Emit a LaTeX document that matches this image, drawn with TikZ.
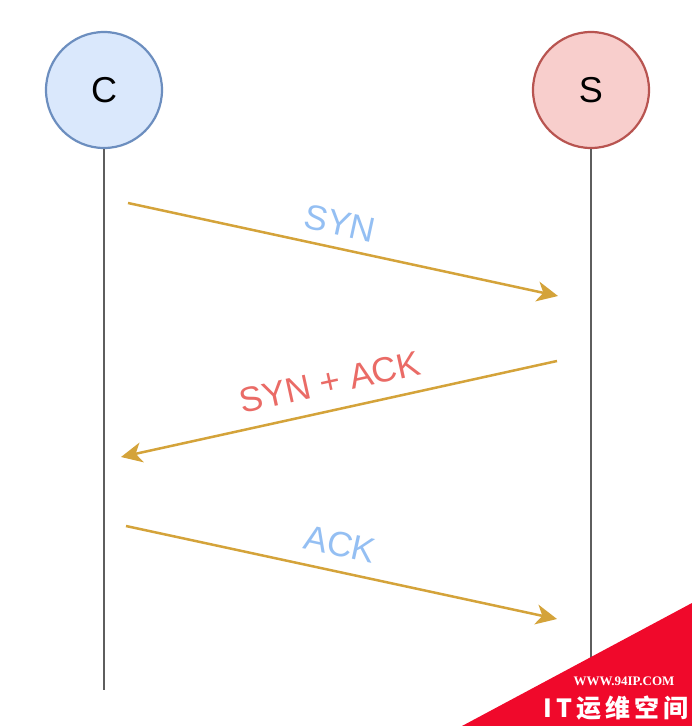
\documentclass[tikz,border=0pt]{standalone}
\usepackage{fontspec}
\setmainfont{Liberation Sans}
\newfontfamily\wmserif{Liberation Serif}
\newfontfamily\cjk{Noto Sans CJK SC}
\usetikzlibrary{arrows.meta}
\definecolor{cfill}{HTML}{DAE8FC}
\definecolor{cdraw}{HTML}{6C8EBF}
\definecolor{sfill}{HTML}{F8CECC}
\definecolor{sdraw}{HTML}{B85450}
\definecolor{msg}{HTML}{D4A33A}
\definecolor{life}{HTML}{5E5E5E}
\definecolor{lblue}{HTML}{94BFF3}
\definecolor{lred}{HTML}{EA6B66}
\definecolor{wmred}{HTML}{F0092B}
\tikzset{
  party/.style={circle, minimum size=116pt, inner sep=0pt, line width=2.2pt,
    font=\fontsize{36}{42}\selectfont},
  lifeline/.style={draw=life, line width=2.2pt},
  message/.style={draw=msg, line width=2.5pt,
    -{Stealth[length=21pt,width=20pt,inset=6pt]}},
  msglabel/.style={font=\fontsize{35}{40}\selectfont, inner sep=0pt}
}
\begin{document}
\begin{tikzpicture}[x=1pt,y=-1pt]
\useasboundingbox[fill=white] (0,0) rectangle (692,726);
% parties
\node[party, fill=cfill, draw=cdraw] (C) at (104,90) {C};
\node[party, fill=sfill, draw=sdraw] (S) at (591,90) {S};
% lifeline ends
\coordinate (Cend) at (104,690);
\coordinate (Send) at (591,690);
\draw[lifeline] (C.south) -- (Cend);
\draw[lifeline] (S.south) -- (Send);
% message endpoints
\coordinate (m1a) at (128,203);
\coordinate (m1b) at (558,296);
\coordinate (m2a) at (557,361);
\coordinate (m2b) at (121,457);
\coordinate (m3a) at (126,526);
\coordinate (m3b) at (557,619);
\draw[message] (m1a) -- (m1b);
\draw[message] (m2a) -- (m2b);
\draw[message] (m3a) -- (m3b);
% labels
\node[msglabel, text=lblue, rotate=-12.3] (l1) at (340,223) {SYN};
\node[msglabel, text=lred, rotate=12.4] (l2) at (330,382) {SYN + ACK};
\node[msglabel, text=lblue, rotate=-12.3] (l3) at (340,544) {ACK};
% watermark
\fill[wmred] (462,726) -- (692,603) -- (692,726) -- cycle;
\node[text=white, font=\wmserif\bfseries\fontsize{13}{15}\selectfont, inner sep=0pt] (wm1) at (624,681) {WWW.94IP.COM};
\node[text=white, font=\cjk\bfseries\fontsize{25}{28}\selectfont, inner sep=0pt] (wm2) at (616,708) {I\,T\,运\,维\,空\,间};
\end{tikzpicture}
\end{document}
